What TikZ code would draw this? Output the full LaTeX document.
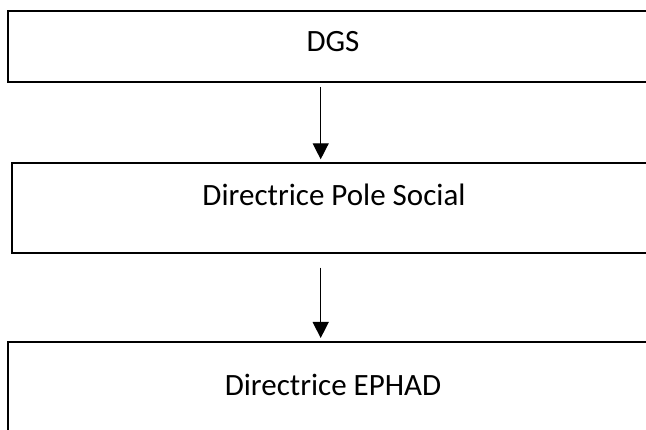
\documentclass[tikz,border=0pt]{standalone}
\usepackage{fontspec}
\setmainfont{Carlito}
\usepackage{tikz}
\usetikzlibrary{arrows.meta,positioning}

\begin{document}
\begin{tikzpicture}[x=1pt,y=-1pt, box/.style={draw,rectangle,line width=2pt,inner sep=0pt,minimum width=642pt},txt/.style={anchor=base,inner sep=0pt,font=\fontsize{31}{36}\selectfont},arr/.style={-{Triangle[width=16pt,length=16pt]},line width=1.4pt}]
              \useasboundingbox (0,0) rectangle (646,430);
              \clip (0,0) rectangle (646,430);

              \node[box,minimum height=71pt] (dgs) at (329,46.5) {};
              \node[box,minimum width=638pt,minimum height=89.4pt] (pole) at (331,208) {};
              \node[box,minimum height=98pt] (ephad) at (329,391) {};

              \node[txt] (tdgs) at (333,52) {DGS};
              \node[txt] (tpole) at (334,206) {Directrice Pole Social};
              \node[txt] (tephad) at (333,396) {Directrice EPHAD};

              \coordinate (axis) at (320.7,0);
              \draw[arr,shorten <=4pt,shorten >=3pt] (dgs.south -| axis) -- (pole.north -| axis);
              \draw[arr,shorten <=14pt,shorten >=3pt] (pole.south -| axis) -- (ephad.north -| axis);
            \end{tikzpicture}
\end{document}
